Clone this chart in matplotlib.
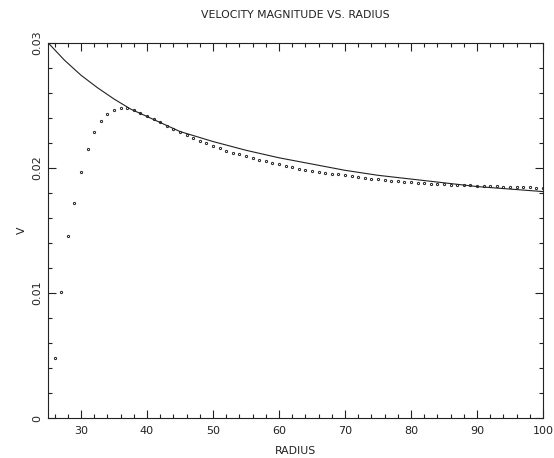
import matplotlib
matplotlib.use("Agg")
import matplotlib.pyplot as plt
from matplotlib.ticker import MultipleLocator, FixedLocator

# Data
dot_radius = list(range(26, 101))
dot_v = [0.00480, 0.01006, 0.01458, 0.01717, 0.01968, 0.02152, 0.02285, 0.02373, 0.02432, 0.02464,
         0.02475, 0.02475, 0.02459, 0.02437, 0.02418, 0.02392, 0.02365, 0.02338, 0.02312, 0.02285,
         0.02266, 0.02242, 0.02218, 0.02197, 0.02176, 0.02157, 0.02138, 0.02122, 0.02110, 0.02094,
         0.02080, 0.02066, 0.02054, 0.02042, 0.02030, 0.02016, 0.02006, 0.01994, 0.01984, 0.01974,
         0.01966, 0.01960, 0.01954, 0.01950, 0.01942, 0.01936, 0.01928, 0.01922, 0.01914, 0.01910,
         0.01904, 0.01898, 0.01894, 0.01888, 0.01884, 0.01880, 0.01877, 0.01874, 0.01872, 0.01870,
         0.01866, 0.01864, 0.01862, 0.01860, 0.01858, 0.01857, 0.01856, 0.01853, 0.01850, 0.01848,
         0.01847, 0.01845, 0.01843, 0.01842, 0.01841]

line_radius = [25, 27.5, 30, 32.5, 35, 37.5, 40, 42.5, 45, 47.5, 50, 55, 60, 65, 70, 75, 80, 85, 90, 95, 100]
line_v = [0.0300, 0.0286, 0.0274, 0.0264, 0.0255, 0.0247, 0.0241, 0.0235, 0.0229, 0.0225, 0.0221,
          0.0214, 0.0208, 0.0203, 0.0198, 0.0194, 0.0191, 0.0188, 0.0185, 0.0183, 0.0181]

title = "VELOCITY MAGNITUDE VS. RADIUS"
xlabel = "RADIUS"
ylabel = "V"
xticks = [30, 40, 50, 60, 70, 80, 90, 100]
yticks = [0, 0.01, 0.02, 0.03]
yticklabels = ["0", "0.01", "0.02", "0.03"]

fig = plt.figure(figsize=(5.54, 4.58), dpi=100)
ax = fig.add_axes([48/554, 40/458, 495/554, 375.3/458])

ax.plot(line_radius, line_v, color="#222222", lw=0.8)
ax.plot(dot_radius, dot_v, linestyle="none", marker="o", ms=1.6, mfc="none",
        mec="#222222", mew=0.7)

ax.set_xlim(25, 100)
ax.set_ylim(0, 0.03)
ax.xaxis.set_major_locator(FixedLocator(xticks))
ax.xaxis.set_minor_locator(MultipleLocator(2))
ax.yaxis.set_major_locator(FixedLocator(yticks))
ax.yaxis.set_minor_locator(MultipleLocator(0.002))
ax.set_yticklabels(yticklabels, rotation=90, va="center")
ax.tick_params(which="both", direction="in", top=True, right=True, width=0.8,
               labelsize=8, colors="#222222")
ax.tick_params(which="major", length=6)
ax.tick_params(axis="x", which="major", pad=6)
ax.tick_params(axis="y", which="major", pad=4)
ax.tick_params(which="minor", length=3)
for s in ax.spines.values():
    s.set_linewidth(0.8)
    s.set_color("#222222")

ax.set_title(title, fontsize=7.8, pad=18, color="#222222")
ax.set_xlabel(xlabel, fontsize=7.8, labelpad=7, color="#222222")
ax.set_ylabel(ylabel, fontsize=7.8, labelpad=4, color="#222222")

fig.savefig("out.png", dpi=100)
